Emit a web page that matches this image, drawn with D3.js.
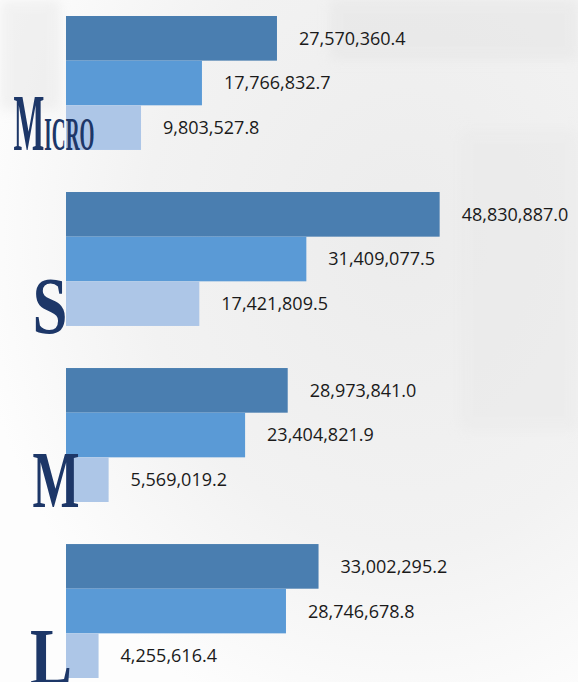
<!DOCTYPE html>
<html>
<head>
<meta charset="utf-8">
<script src="https://cdn.jsdelivr.net/npm/d3@7"></script>
<style>
  html, body { margin: 0; padding: 0; background: #fff; }
  svg { display: block; }
</style>
</head>
<body>
<div id="main"></div>
<script>
// dataset
const categories = ['Micro', 'S', 'M', 'L'];
const series = ['s1', 's2', 's3'];
const s1Values = [27570360.4, 48830887.0, 28973841.0, 33002295.2];
const s2Values = [17766832.7, 31409077.5, 23404821.9, 28746678.8];
const s3Values = [9803527.8, 17421809.5, 5569019.2, 4255616.4];
const colors = ['#4a7eb0', '#5a9ad6', '#adc6e7'];
// dataset

const W = 578, H = 682;

const data = categories.map((c, i) => ({
  cat: c,
  values: [s1Values[i], s2Values[i], s3Values[i]]
}));

const svg = d3.select('#main').append('svg')
  .attr('width', W)
  .attr('height', H);

// faint grey backdrop
const defs = svg.append('defs');
const grad = defs.append('radialGradient')
  .attr('id', 'bg')
  .attr('cx', '0.7').attr('cy', '0.35').attr('r', '0.75');
grad.append('stop').attr('offset', '0%').attr('stop-color', '#ececec');
grad.append('stop').attr('offset', '60%').attr('stop-color', '#f2f2f2');
grad.append('stop').attr('offset', '100%').attr('stop-color', '#fdfdfd');
defs.append('filter').attr('id', 'blur')
  .append('feGaussianBlur').attr('stdDeviation', 6);

svg.append('rect')
  .attr('width', W).attr('height', H)
  .attr('fill', 'url(#bg)');

// a few soft shapes hinting at the photo behind
const haze = svg.append('g').attr('filter', 'url(#blur)').attr('opacity', 0.5);
haze.append('rect').attr('x', 0).attr('y', 0).attr('width', 60).attr('height', 110).attr('fill', '#e6e6e6');
haze.append('rect').attr('x', 330).attr('y', 0).attr('width', 248).attr('height', 60).attr('fill', '#e4e4e4');
haze.append('rect').attr('x', 460).attr('y', 130).attr('width', 118).attr('height', 300).attr('fill', '#e9e9e9');

// scales
const xScale = d3.scaleLinear()
  .domain([0, 50000000])
  .range([66, 66 + 382.6]);

const yScale = d3.scaleBand()
  .domain(categories)
  .range([16, 678])
  .paddingInner(0.239)
  .paddingOuter(0);

const ySub = d3.scaleBand()
  .domain(series)
  .range([0, yScale.bandwidth()]);

const groups = svg.selectAll('.group')
  .data(data)
  .enter()
  .append('g')
  .attr('class', 'group')
  .attr('transform', d => `translate(0,${yScale(d.cat)})`);

const bars = groups.selectAll('.bar')
  .data(d => d.values.map((v, i) => ({ key: series[i], value: v, i })))
  .enter();

bars.append('rect')
  .attr('class', 'bar')
  .attr('x', xScale(0))
  .attr('y', d => ySub(d.key))
  .attr('width', d => xScale(d.value) - xScale(0))
  .attr('height', ySub.bandwidth())
  .attr('fill', d => colors[d.i]);

bars.append('text')
  .attr('class', 'value')
  .attr('x', d => xScale(d.value) + 22)
  .attr('y', d => ySub(d.key) + ySub.bandwidth() / 2)
  .attr('dy', '0.36em')
  .attr('font-family', '"Open Sans", "Noto Sans", sans-serif')
  .attr('font-size', 18)
  .attr('fill', '#1a1a1a')
  .text(d => d3.format(',.1f')(d.value));

// category labels, tall condensed serif
const labelLayout = {
  Micro: { cx: 54, len: 81, dy: 0 },
  S: { cx: 50, len: 35, dy: 7 },
  M: { cx: 56, len: 47, dy: 5 },
  L: { cx: 51, len: 42, dy: 6 }
};

groups.each(function (d) {
  const lay = labelLayout[d.cat];
  const t = d3.select(this).append('text')
    .attr('x', lay.cx)
    .attr('y', yScale.bandwidth() + lay.dy)
    .attr('text-anchor', 'middle')
    .attr('font-family', '"Liberation Serif", "DejaVu Serif", serif')
    .attr('font-weight', 'bold')
    .attr('fill', '#1d3768')
    .attr('textLength', lay.len)
    .attr('lengthAdjust', 'spacingAndGlyphs');
  t.append('tspan').attr('font-size', 80).text(d.cat[0]);
  if (d.cat.length > 1) {
    t.append('tspan').attr('font-size', 47).text(d.cat.slice(1).toUpperCase());
  }
});
</script>
</body>
</html>
